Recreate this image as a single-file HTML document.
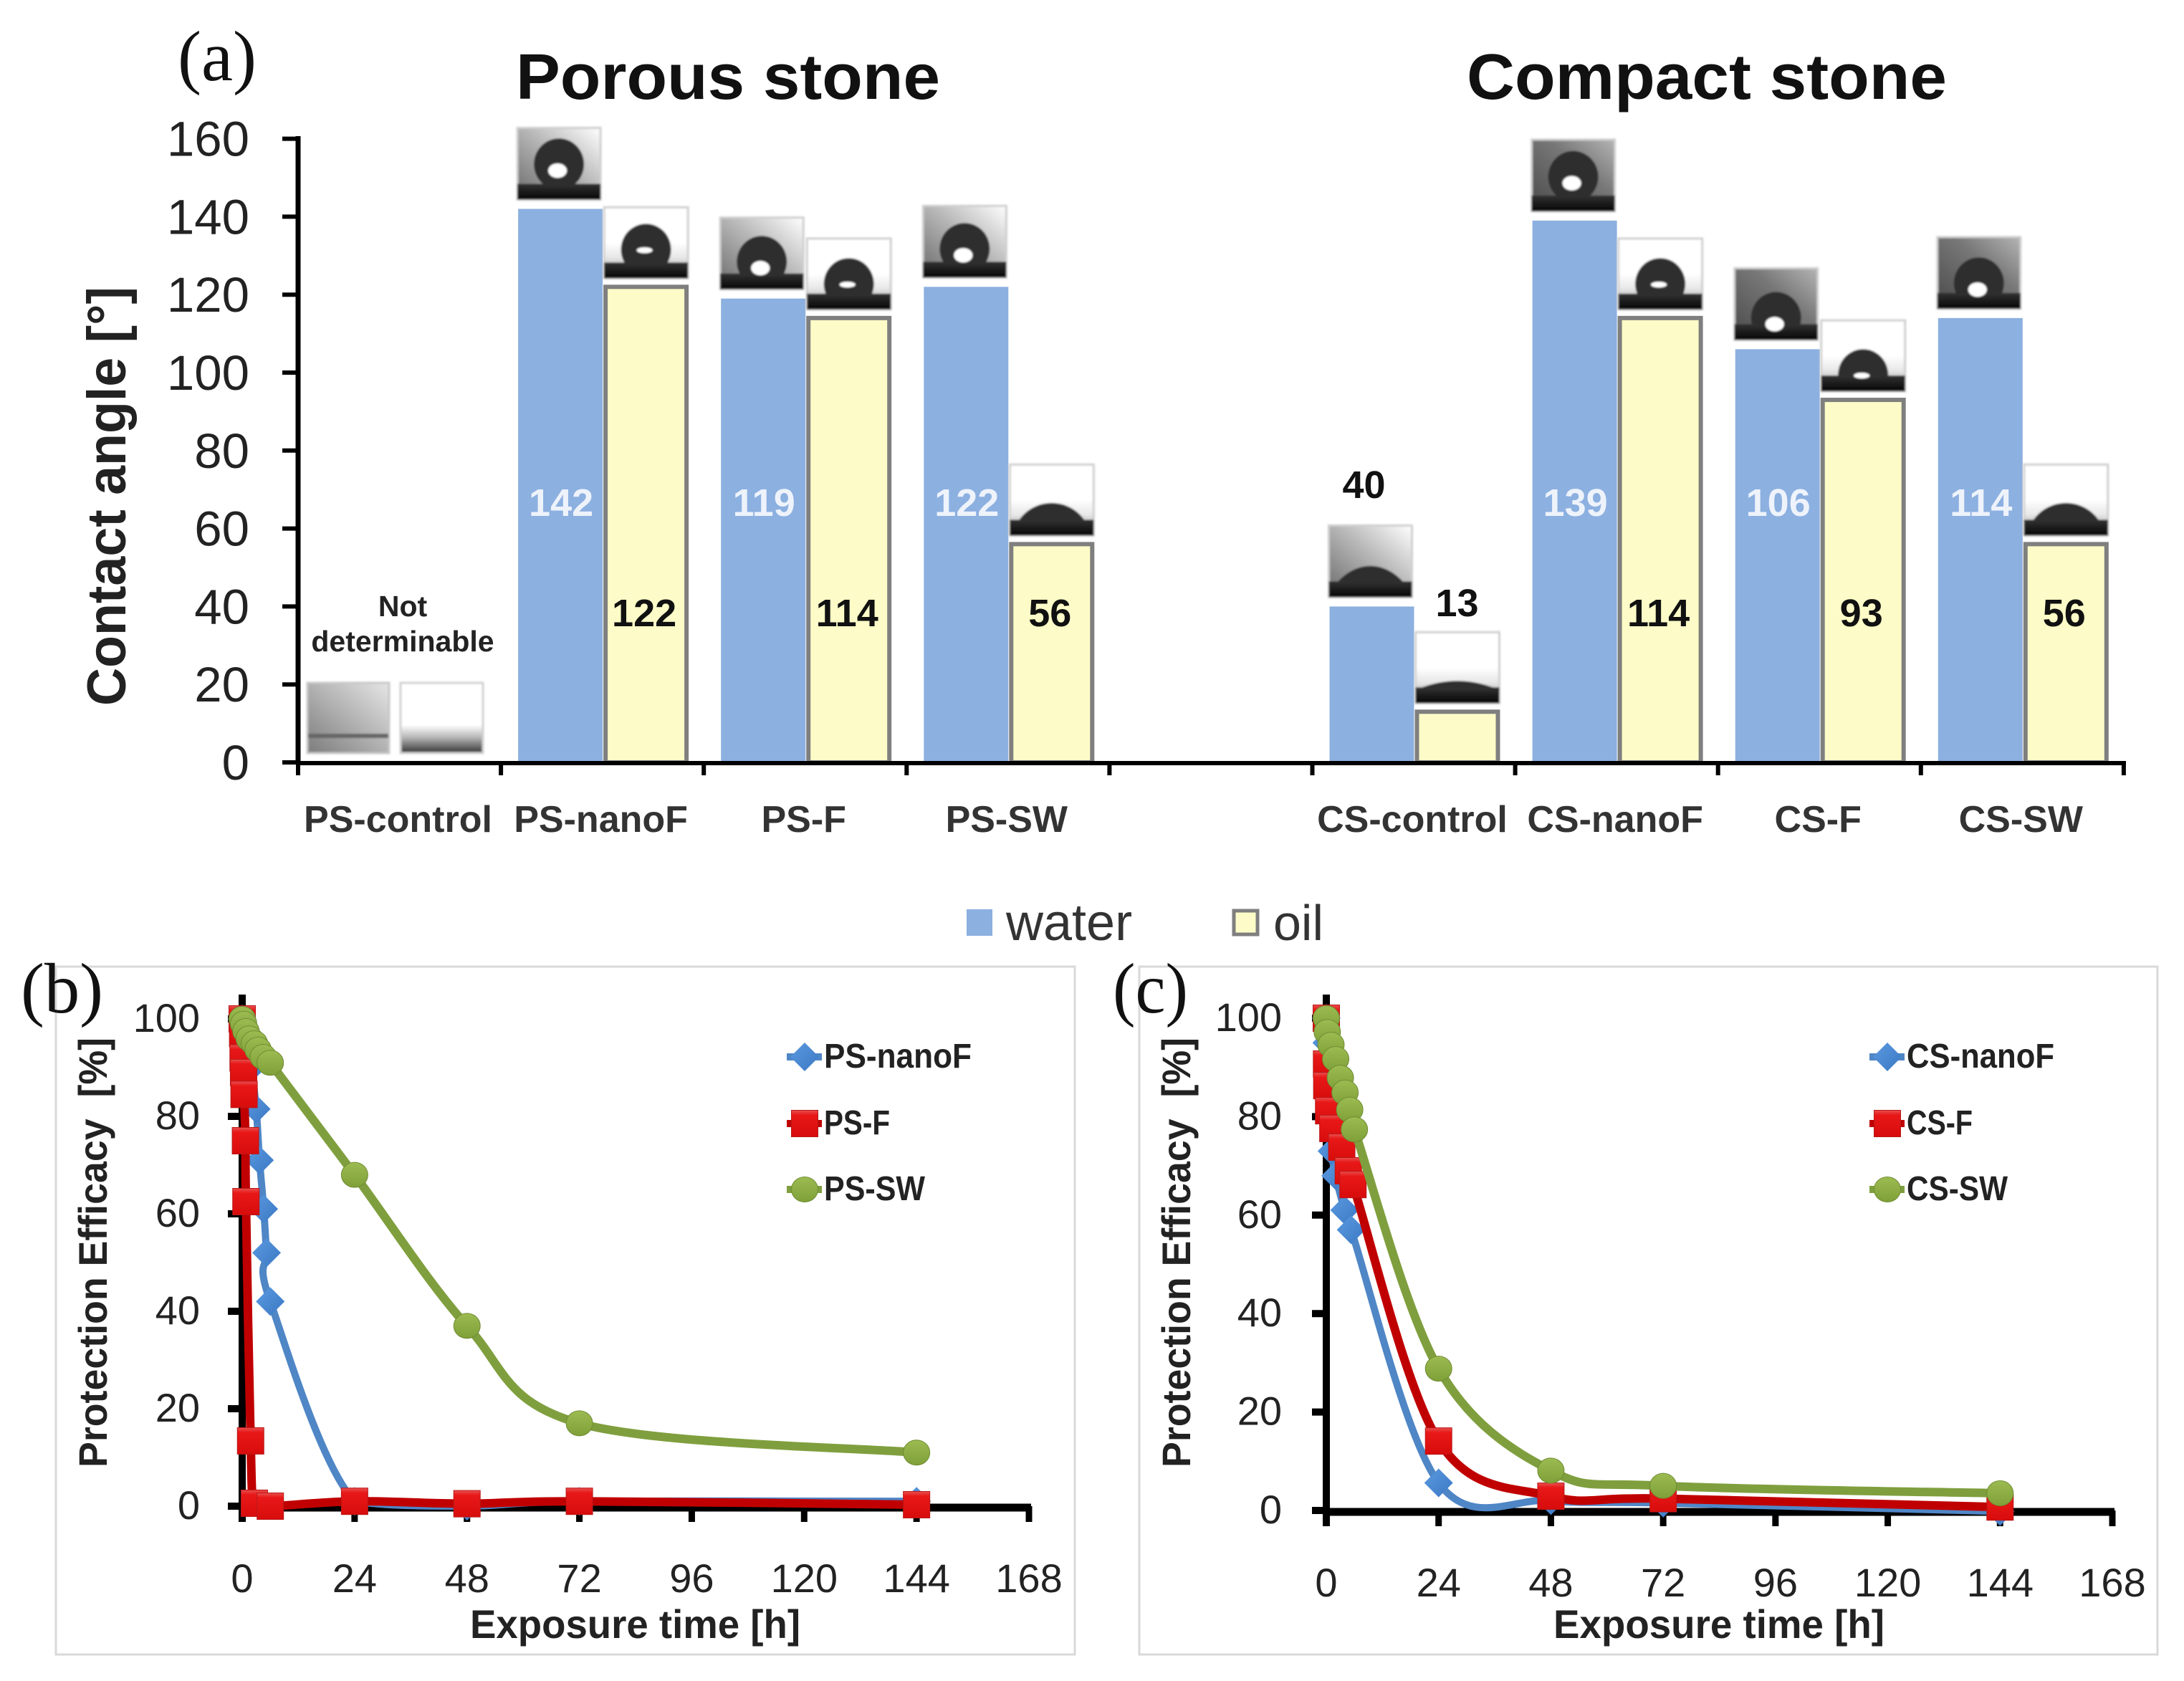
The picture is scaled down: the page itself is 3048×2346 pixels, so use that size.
<!DOCTYPE html>
<html lang="en">
<head>
<meta charset="utf-8">
<title>Contact angle and protection efficacy</title>
<style>
html,body{margin:0;padding:0;background:#fff;}
svg{display:block;font-family:"Liberation Sans",sans-serif;}
.serif{font-family:"Liberation Serif",serif;}
</style>
</head>
<body>
<svg id="fig" xmlns="http://www.w3.org/2000/svg" width="3048" height="2346" viewBox="0 0 3048 2346">
<defs>
<linearGradient id="bgWater" x1="0" y1="1" x2="1" y2="0"><stop offset="0" stop-color="#6a6a6a"/><stop offset="0.55" stop-color="#b8b8b8"/><stop offset="1" stop-color="#ffffff"/></linearGradient>
<linearGradient id="bgDark" x1="0" y1="1" x2="1" y2="0"><stop offset="0" stop-color="#4a4a4a"/><stop offset="0.6" stop-color="#777"/><stop offset="1" stop-color="#b5b5b5"/></linearGradient>
<linearGradient id="bgOil" x1="0" y1="1" x2="0" y2="0"><stop offset="0" stop-color="#999"/><stop offset="0.3" stop-color="#e8e8e8"/><stop offset="0.5" stop-color="#fff"/></linearGradient>
<linearGradient id="band" x1="0" y1="0" x2="0" y2="1"><stop offset="0" stop-color="#333"/><stop offset="1" stop-color="#050505"/></linearGradient>
<linearGradient id="mRed" x1="0" y1="0" x2="0" y2="1"><stop offset="0" stop-color="#e85050"/><stop offset="0.18" stop-color="#e81818"/><stop offset="1" stop-color="#d80c0c"/></linearGradient>
<linearGradient id="mBlue" x1="0" y1="0" x2="1" y2="1"><stop offset="0" stop-color="#5b9ae0"/><stop offset="1" stop-color="#3b78c4"/></linearGradient>
<linearGradient id="mGreen" x1="0" y1="0" x2="0" y2="1"><stop offset="0" stop-color="#9cbc52"/><stop offset="1" stop-color="#7f9f38"/></linearGradient>
<linearGradient id="ctlA" x1="1" y1="0" x2="0" y2="1"><stop offset="0" stop-color="#e6e6e6"/><stop offset="1" stop-color="#7c7c7c"/></linearGradient>
<linearGradient id="ctlB" x1="0" y1="0" x2="0" y2="1"><stop offset="0.6" stop-color="#fff"/><stop offset="0.78" stop-color="#b5b5b5"/><stop offset="1" stop-color="#333"/></linearGradient>
<filter id="soft" x="-5%" y="-5%" width="110%" height="110%"><feGaussianBlur stdDeviation="1.2"/></filter>
</defs>

<rect x="0" y="0" width="3048" height="2346" fill="#ffffff"/>

<text class="serif" x="248" y="112" font-size="100" textLength="110" lengthAdjust="spacingAndGlyphs" fill="#111">(a)</text>
<text x="720" y="138" font-size="90" font-weight="700" textLength="592" lengthAdjust="spacingAndGlyphs" fill="#111">Porous stone</text>
<text x="2047" y="138" font-size="90" font-weight="700" textLength="670" lengthAdjust="spacingAndGlyphs" fill="#111">Compact stone</text>
<text transform="translate(175 985) rotate(-90)" font-size="76" font-weight="700" textLength="585" lengthAdjust="spacingAndGlyphs" fill="#222">Contact angle [°]</text>

<g id="barChart"></g>

<g filter="url(#soft)">
<rect x="429" y="953" width="114" height="98" fill="url(#ctlA)" stroke="#c8c8c8" stroke-width="3"/>
<rect x="430" y="1024" width="112" height="6" fill="#666"/>
<rect x="559" y="953" width="115" height="98" fill="url(#ctlB)" stroke="#d0d0d0" stroke-width="3"/>
</g>
<text x="562" y="860" font-size="41" font-weight="700" text-anchor="middle" fill="#222">Not</text>
<text x="562" y="909" font-size="41" font-weight="700" text-anchor="middle" fill="#222">determinable</text>

<rect x="1349" y="1269" width="36" height="37" fill="#8cb0e0"/>
<text x="1404" y="1312" font-size="72" fill="#333">water</text>
<rect x="1722" y="1271" width="33" height="33" fill="#fdfcc8" stroke="#7f7f7f" stroke-width="5"/>
<text x="1777" y="1312" font-size="70" fill="#333">oil</text>

<rect x="78" y="1349" width="1422" height="960" fill="#fff" stroke="#d9d9d9" stroke-width="3"/>
<rect x="1590" y="1349" width="1421" height="960" fill="#fff" stroke="#d9d9d9" stroke-width="3"/>

<g id="panelB"></g>
<g id="panelC"></g>

<text transform="translate(149 2048) rotate(-90)" font-size="56" font-weight="700" textLength="600" lengthAdjust="spacingAndGlyphs" fill="#222">Protection Efficacy&#160;&#160;[%]</text>
<text x="656" y="2286" font-size="56" font-weight="700" textLength="461" lengthAdjust="spacingAndGlyphs" fill="#222">Exposure time [h]</text>
<text transform="translate(1661 2048) rotate(-90)" font-size="56" font-weight="700" textLength="600" lengthAdjust="spacingAndGlyphs" fill="#222">Protection Efficacy&#160;&#160;[%]</text>
<text x="2168" y="2286" font-size="56" font-weight="700" textLength="462" lengthAdjust="spacingAndGlyphs" fill="#222">Exposure time [h]</text>
<text class="serif" x="29" y="1413" font-size="100" textLength="115" lengthAdjust="spacingAndGlyphs" fill="#111">(b)</text>
<text class="serif" x="1553" y="1413" font-size="100" textLength="105" lengthAdjust="spacingAndGlyphs" fill="#111">(c)</text>
</svg>

<script>
// ---- Panel (a) data ----
const categories = ['PS-control','PS-nanoF','PS-F','PS-SW','','CS-control','CS-nanoF','CS-F','CS-SW'];
const waterAngles = [null,142,119,122,null,40,139,106,114];
const oilAngles = [null,122,114,56,null,13,114,93,56];
const angleTicks = [0,20,40,60,80,100,120,140,160];

// ---- Panels (b), (c) data ----
const hourTicks = [0,24,48,72,96,120,144,168];
const efficacyTicks = [0,20,40,60,80,100];

const psNanoFHours = [0,1,2,3.0,3.7,4.6,5.2,6,24,48,72,144];
const psNanoFValues = [100,97,90,81.5,71,61,52,42,1,0,1,1];
const psFHours = [0,0.1,0.2,0.3,0.4,0.7,0.8,1.8,2.6,6,24,48,72,144];
const psFValues = [100,97,92,89,84.5,75,62.5,13.4,0.6,0,1,0.5,1,0.3];
const psSWHours = [0,0.3,0.8,1.5,2.6,3.4,4.5,6,24,48,72,144];
const psSWValues = [100,99,97.5,96,95,93.7,92.2,91,68,37,17,11];

const csNanoFHours = [0,0.1,0.5,1.2,2,3.9,5.3,24,48,72,144];
const csNanoFValues = [100,95,87,73,68,61,57,5.6,2,1.5,-0.2];
const csFHours = [0,0.05,0.1,0.5,1.4,3.3,4.7,5.7,24,48,72,144];
const csFValues = [100,90.7,86.3,81.2,77.6,73.8,69,66.2,14.1,2.9,2.4,0.7];
const csSWHours = [0,0.2,1,2,3,4,5,6,24,48,72,144];
const csSWValues = [100,97.2,94.6,91.7,87.9,84.9,81.4,77.4,28.8,8.1,5,3.5];

const psSeriesNames = ['PS-nanoF','PS-F','PS-SW'];
const csSeriesNames = ['CS-nanoF','CS-F','CS-SW'];

const NS = 'http://www.w3.org/2000/svg';
function add(parent, tag, attrs, content) {
  const el = document.createElementNS(NS, tag);
  for (const k in attrs) el.setAttribute(k, attrs[k]);
  if (content !== undefined) el.textContent = content;
  parent.appendChild(el);
  return el;
}

// ---- Panel (a) ----
const yAngle = v => 1064 - v * 5.44;
const catX = i => 416 + i * 283.1;
const barG = document.getElementById('barChart');

function slugOf(s) { return s.toLowerCase(); }

function drawThumb(x, bottom, w, h, angle, kind, dark, label) {
  const g = add(barG, 'g', {filter: 'url(#soft)'});
  
  
  const top = bottom - h;
  const bg = kind === 'oil' ? 'url(#bgOil)' : (dark ? 'url(#bgDark)' : 'url(#bgWater)');
  const box = add(g, 'rect', {x: x, y: top, width: w, height: h, fill: bg, stroke: '#cfcfcf', 'stroke-width': 3});
  
  
  const bandH = 22;
  const yb = bottom - bandH;
  const band = add(g, 'rect', {x: x, y: yb, width: w, height: bandH, fill: 'url(#band)'});
  
  
  const th = angle * Math.PI / 180;
  let rx, ry;
  if (angle >= 90) { rx = 35; ry = 36; }
  else {
    rx = (angle < 30 ? 52 : 46) / Math.sin(th);
    ry = rx * (angle < 30 ? 1.7 : (angle < 50 ? 1.35 : 1.0));
  }
  const a = rx * Math.sin(th);
  const cx = x + w / 2;
  const large = angle > 90 ? 1 : 0;
  const d = 'M' + (cx - a) + ' ' + (yb + 1) + ' A' + rx + ' ' + ry + ' 0 ' + large + ' 1 ' + (cx + a) + ' ' + (yb + 1) + ' Z';
  const drop = add(g, 'path', {d: d, fill: '#2e2e2e'});
  
  
  if (angle >= 90) {
    const cy = yb + ry * Math.cos(th);
    const hl = add(g, 'ellipse', {cx: cx - 2, cy: cy + (kind === 'oil' ? 2 : 10), rx: kind === 'oil' ? 11 : 13, ry: kind === 'oil' ? 4 : 10, fill: '#fff'});
    
    
  }
}

for (let i = 0; i <= 9; i++) {
  const t = add(barG, 'line', {x1: catX(i), x2: catX(i), y1: 1064, y2: 1082, stroke: '#000', 'stroke-width': 6});
  
  
}
angleTicks.forEach(v => {
  const t = add(barG, 'line', {x1: 394, x2: 416, y1: yAngle(v), y2: yAngle(v), stroke: '#000', 'stroke-width': 6});
  
  
  const l = add(barG, 'text', {x: 348, y: yAngle(v) + 24, 'font-size': 69, 'text-anchor': 'end', fill: '#222'}, String(v));
  
  
});

categories.forEach((name, i) => {
  if (name) {
    const lab = add(barG, 'text', {x: catX(i) + 139.5, y: 1161, 'font-size': 52, 'font-weight': 700, 'text-anchor': 'middle', fill: '#333'}, name);
    
    
  }
  const w = waterAngles[i], o = oilAngles[i];
  if (w !== null) {
    const top = yAngle(w);
    const b = add(barG, 'rect', {x: catX(i) + 24, y: top, width: 118, height: 1064 - top, fill: '#8cb0e0'});
    
    
    drawThumb(catX(i) + 23, top - 13, 116, 100, w, 'water', i > 4 && w !== 40, 'water-' + slugOf(name));
    const inside = w > 60;
    const dl = add(barG, 'text', {
      x: catX(i) + (inside ? 84 : 72), y: inside ? 720 : 695, 'font-size': 54, 'font-weight': 700,
      'text-anchor': 'middle', fill: inside ? '#eef3fb' : '#111'
    }, String(w));
    
    
  }
  if (o !== null) {
    const top = yAngle(o);
    const b = add(barG, 'rect', {x: catX(i) + 146, y: top, width: 113, height: 1064 - top, fill: '#fdfcc8', stroke: '#7f7f7f', 'stroke-width': 6});
    
    
    drawThumb(catX(i) + 144, top - 12, 117, 99, o, 'oil', false, 'oil-' + slugOf(name));
    const inside = o > 40;
    const dl = add(barG, 'text', {
      x: catX(i) + (inside ? 200 : 202), y: inside ? 874 : 860, 'font-size': 54, 'font-weight': 700,
      'text-anchor': 'middle', fill: '#111'
    }, String(o));
    
    
  }
});

const yAx = add(barG, 'line', {x1: 416, x2: 416, y1: 190, y2: 1067, stroke: '#000', 'stroke-width': 7});


const xAx = add(barG, 'line', {x1: 413, x2: 2967, y1: 1065, y2: 1065, stroke: '#000', 'stroke-width': 6});



// ---- Panels (b), (c) ----
function smoothPath(pts, floorY) {
  let d = 'M' + pts[0][0] + ' ' + pts[0][1];
  for (let i = 0; i < pts.length - 1; i++) {
    const p0 = pts[Math.max(i - 1, 0)], p1 = pts[i], p2 = pts[i + 1], p3 = pts[Math.min(i + 2, pts.length - 1)];
    const c1x = p1[0] + (p2[0] - p0[0]) / 6;
    let c1y = p1[1] + (p2[1] - p0[1]) / 6;
    const c2x = p2[0] - (p3[0] - p1[0]) / 6;
    let c2y = p2[1] - (p3[1] - p1[1]) / 6;
    if (floorY !== null) {
      c1y = Math.min(c1y, floorY);
      c2y = Math.min(c2y, floorY);
    }
    d += ' C' + c1x + ' ' + c1y + ' ' + c2x + ' ' + c2y + ' ' + p2[0] + ' ' + p2[1];
  }
  return d;
}

function drawMarker(g, kind, x, y, name) {
  let m;
  if (kind === 0) {
    m = add(g, 'path', {d: 'M' + x + ' ' + (y - 20) + ' L' + (x + 20) + ' ' + y + ' L' + x + ' ' + (y + 20) + ' L' + (x - 20) + ' ' + y + ' Z', fill: 'url(#mBlue)'});
  } else if (kind === 1) {
    m = add(g, 'rect', {x: x - 18.5, y: y - 18.5, width: 37, height: 37, fill: 'url(#mRed)', stroke: '#b81818', 'stroke-width': 1});
  } else {
    m = add(g, 'ellipse', {cx: x, cy: y, rx: 18.5, ry: 17.5, fill: 'url(#mGreen)', stroke: '#6f8c32', 'stroke-width': 1});
  }
  
  
}

const lineColors = ['#4f86c6', '#c00000', '#7f9f3e'];
const legendTextWidths = [206, 92, 141];

function drawPanel(g, x0, xPerHour, y0, yPerUnit, axisTop, xLabelY, yLabelX, legendX, names, seriesHours, seriesValues, floorAtZero) {
  const fx = h => x0 + h * xPerHour;
  const fy = v => y0 - v * yPerUnit;
  const yLine = add(g, 'line', {x1: x0, x2: x0, y1: axisTop, y2: y0 + 22, stroke: '#000', 'stroke-width': 10});
  
  
  const xLine = add(g, 'line', {x1: x0 - 5, x2: fx(168) + 3, y1: y0 + 2, y2: y0 + 2, stroke: '#000', 'stroke-width': 11});
  
  
  efficacyTicks.forEach(v => {
    const t = add(g, 'line', {x1: x0 - 20, x2: x0, y1: fy(v), y2: fy(v), stroke: '#000', 'stroke-width': 10});
    
    
    const l = add(g, 'text', {x: yLabelX, y: fy(v) + 18, 'font-size': 56, 'text-anchor': 'end', fill: '#222'}, String(v));
    
    
  });
  hourTicks.forEach(h => {
    const t = add(g, 'line', {x1: fx(h), x2: fx(h), y1: y0, y2: y0 + 22, stroke: '#000', 'stroke-width': 9});
    
    
    const l = add(g, 'text', {x: fx(h), y: xLabelY, 'font-size': 56, 'text-anchor': 'middle', fill: '#222'}, String(h));
    
    
  });
  names.forEach((name, s) => {
    const pts = seriesHours[s].map((h, i) => [fx(h), fy(seriesValues[s][i])]);
    const sg = add(g, 'g', {});
    
    
    const path = add(sg, 'path', {d: smoothPath(pts, floorAtZero ? fy(0) : null), fill: 'none', stroke: lineColors[s], 'stroke-width': s === 0 ? 10 : 12, 'stroke-linejoin': 'round', 'stroke-linecap': 'round'});
    
    
    pts.forEach(p => drawMarker(sg, s, p[0], p[1], 'point-' + slugOf(name)));
  });
  const legendYs = [1475, 1568, 1660];
  names.forEach((name, s) => {
    const ly = legendYs[s];
    const ln = add(g, 'line', {x1: legendX - 25, x2: legendX + 24, y1: ly, y2: ly, stroke: lineColors[s], 'stroke-width': 10});
    
    
    drawMarker(g, s, legendX, ly, 'legend-marker-' + slugOf(name));
    const tx = add(g, 'text', {x: legendX + 27, y: ly + 15, 'font-size': 48, 'font-weight': 700, textLength: legendTextWidths[s], lengthAdjust: 'spacingAndGlyphs', fill: '#222'}, name);
    
    
  });
}

drawPanel(document.getElementById('panelB'), 338, 1098 / 168, 2102, 6.8, 1388, 2222, 279, 1123, psSeriesNames,
  [psNanoFHours, psFHours, psSWHours], [psNanoFValues, psFValues, psSWValues], true);
drawPanel(document.getElementById('panelC'), 1851, 1097 / 168, 2108, 6.87, 1388, 2228, 1789, 2634, csSeriesNames,
  [csNanoFHours, csFHours, csSWHours], [csNanoFValues, csFValues, csSWValues], false);
</script>
</body>
</html>
